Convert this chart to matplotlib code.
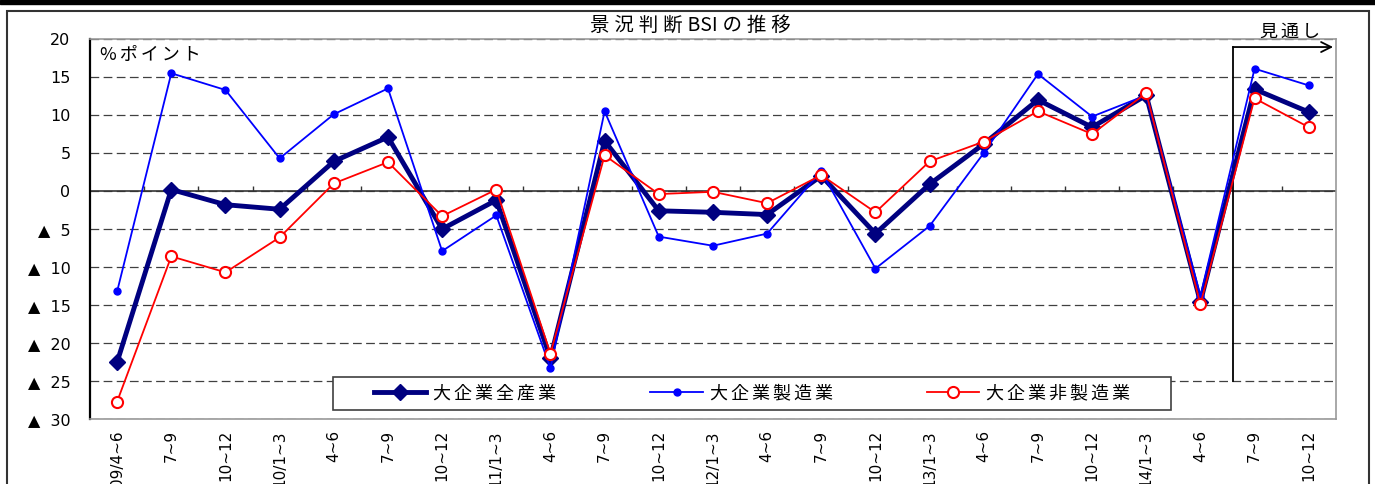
import numpy as np
import matplotlib
matplotlib.use('Agg')
import matplotlib.pyplot as plt
from matplotlib.patches import Rectangle

plt.rcParams['font.family'] = ['Noto Sans CJK JP', 'DejaVu Sans']
NUM_FONT = ['DejaVu Sans', 'Noto Sans CJK JP']

# データ（%ポイント）
periods = ['09/4~6', '7~9', '10~12', '10/1~3', '4~6', '7~9', '10~12',
           '11/1~3', '4~6', '7~9', '10~12', '12/1~3', '4~6', '7~9', '10~12',
           '13/1~3', '4~6', '7~9', '10~12', '14/1~3', '4~6', '7~9', '10~12']
all_ind = [-22.5, 0.2, -1.8, -2.4, 3.9, 7.1, -5.0, -1.2, -22.0, 6.6, -2.6, -2.8, -3.1,
           2.0, -5.6, 0.9, 6.2, 12.0, 8.4, 12.6, -14.6, 13.4, 10.4]
mfg = [-13.2, 15.5, 13.3, 4.3, 10.1, 13.5, -7.9, -3.2, -23.3, 10.5, -6.0, -7.2, -5.6,
       2.6, -10.2, -4.6, 5.0, 15.4, 9.8, 12.6, -13.8, 16.1, 13.9]
non_mfg = [-27.7, -8.6, -10.7, -6.1, 1.0, 3.8, -3.3, 0.2, -21.4, 4.7, -0.4, -0.1, -1.6,
           2.1, -2.8, 3.9, 6.5, 10.5, 7.5, 12.9, -14.9, 12.2, 8.4]
labels = ['大企業全産業', '大企業製造業', '大企業非製造業']
forecast_x = 20.6  # 見通しの区切り


def spaced(s, sep='\u2006'):
    # 文字間を少し空ける
    return sep.join(s)


fig = plt.figure(figsize=(13.75, 4.84), dpi=100)
ax = fig.add_axes([0.0655, 0.1343, 0.906, 0.785])
x = np.arange(len(periods))

ax.plot(x, all_ind, color='#000080', lw=3.5, marker='D', ms=8, label=spaced(labels[0]), zorder=3)
ax.plot(x, mfg, color='#0000FF', lw=1.3, marker='o', ms=5, label=spaced(labels[1]), zorder=4)
ax.plot(x, non_mfg, color='#FF0000', lw=1.3, marker='o', ms=8, mfc='white', mew=1.5,
        label=spaced(labels[2]), zorder=5)

ax.set_xlim(-0.5, len(periods) - 0.5)
ax.set_ylim(-30, 20)

yt = np.arange(-30, 21, 5)
ax.set_yticks(yt)
ax.set_yticklabels([str(v) if v >= 0 else '▲  ' + str(-v) for v in yt])
ax.tick_params(axis='y', length=0, pad=14, labelsize=11.5)
ax.yaxis.grid(True, color='#404040', lw=0.9, ls=(0, (7, 3.5)))
ax.set_axisbelow(True)

ax.set_xticks(x)
ax.set_xticklabels(periods, rotation=90, fontsize=11)
ax.tick_params(axis='x', length=0, pad=8)
for t in ax.get_xticklabels() + ax.get_yticklabels():
    t.set_fontfamily(NUM_FONT)

# ゼロ線と区切り目盛
ax.axhline(0, color='#333333', lw=1.2, zorder=2)
ax.vlines(x[1:] - 0.5, 0, 0.7, color='#333333', lw=1, zorder=2)

for s in ['top', 'right', 'bottom']:
    ax.spines[s].set_color('#999999')
    ax.spines[s].set_linewidth(1.2)
ax.spines['left'].set_color('black')
ax.spines['left'].set_linewidth(1.6)

# 凡例（枠は別に描く）
ax.add_patch(Rectangle((0.195, 0.024), 0.673, 0.087, transform=ax.transAxes,
                       facecolor='white', edgecolor='#404040', lw=1.2, zorder=6))
leg = ax.legend(loc='center', bbox_to_anchor=(0.5315, 0.0675), ncol=3, frameon=False,
                handlelength=2.9, handletextpad=0.4, columnspacing=5.2,
                fontsize=13, borderaxespad=0, borderpad=0)
leg.set_zorder(7)

ax.text(0.008, 0.958, spaced('%ポイント'), transform=ax.transAxes, fontsize=13,
        va='center', ha='left')

# 見通し
ax.plot([forecast_x, forecast_x], [-25, 18.95], color='black', lw=1.3, zorder=2)
ax.annotate('', xy=(22.45, 18.95), xytext=(forecast_x, 18.95),
            arrowprops=dict(arrowstyle='->', color='black', lw=1.3, mutation_scale=18,
                            shrinkA=0, shrinkB=0), annotation_clip=False)
ax.text(21.65, 20.9, spaced('見通し'), ha='center', va='center', fontsize=13, clip_on=False)

fig.text(0.502, 0.948, '景\u2005況\u2005判\u2005断\u2005BSI\u2005の\u2005推\u2005移',
         ha='center', va='center', fontsize=14)

# 外枠
fig.patches.append(Rectangle((7 / 1375, -0.05), 1362 / 1375, 1.027, transform=fig.transFigure,
                             fill=False, ec='#333333', lw=1.5))
fig.patches.append(Rectangle((0, 1 - 4 / 484), 1, 4 / 484, transform=fig.transFigure,
                             color='black'))

fig.savefig('out.png', dpi=100)
